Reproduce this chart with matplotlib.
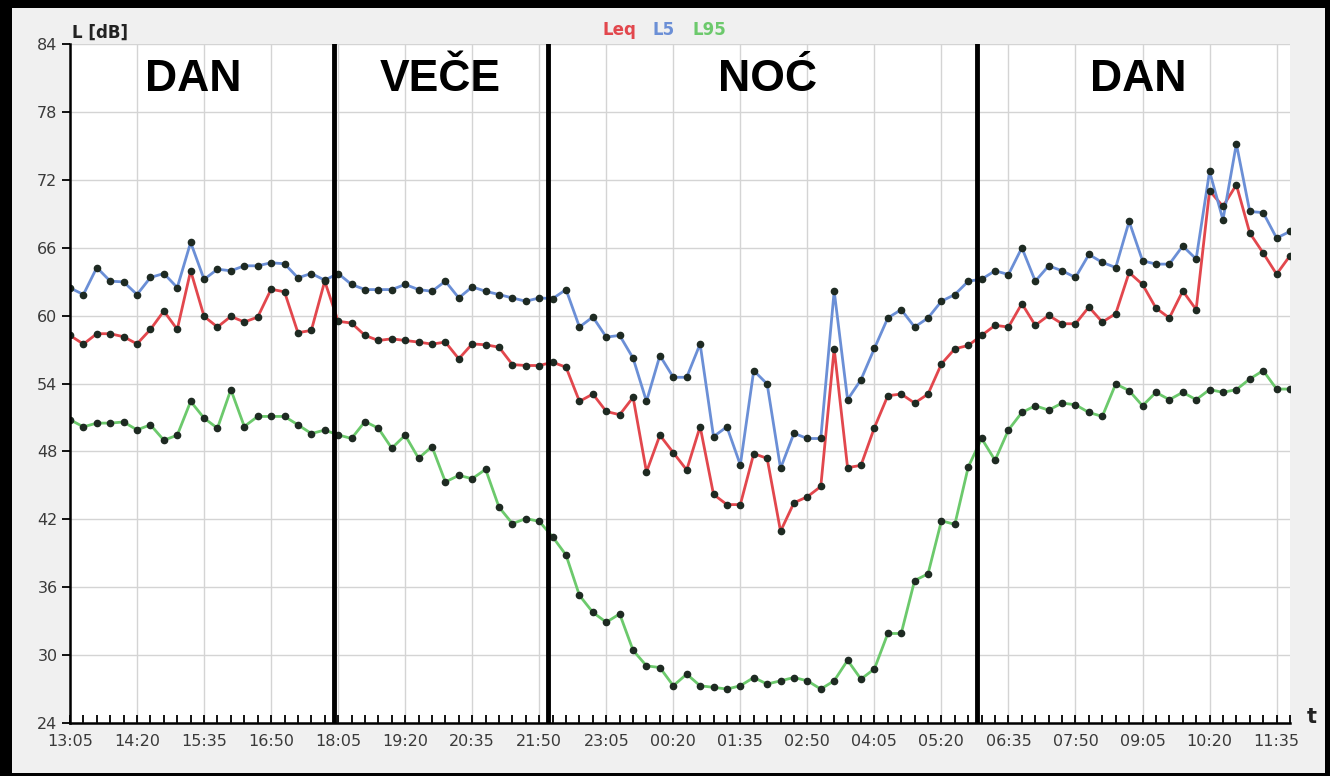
import numpy as np
import pandas as pd
import matplotlib
matplotlib.use("Agg")
import matplotlib.pyplot as plt
import matplotlib.dates as mdates
from matplotlib.patches import Rectangle

# 15-minute samples, 13:05 -> 11:50 next day
times = pd.date_range("2020-01-01 13:05", periods=92, freq="15min")

l5 = [62.45, 61.86, 64.25, 63.04, 62.98, 61.86, 63.37, 63.72, 62.48, 66.47,
      63.2, 64.1, 63.96, 64.4, 64.4, 64.67, 64.58, 63.34, 63.72, 63.13,
      63.72, 62.75, 62.3, 62.3, 62.3, 62.75, 62.3, 62.15, 63.04, 61.56,
      62.54, 62.15, 61.86, 61.56, 61.27, 61.56, 61.5, 62.3, 58.99, 59.88,
      58.1, 58.25, 56.24, 52.42, 56.47, 54.55, 54.55, 57.5, 49.31, 50.17,
      46.8, 55.14, 53.96, 46.5, 49.6, 49.14, 49.14, 62.18, 52.57, 54.34,
      57.1, 59.79, 60.53, 58.99, 59.79, 61.27, 61.86, 63.04, 63.22, 63.96,
      63.63, 66.0, 63.04, 64.4, 63.96, 63.37, 65.4, 64.7, 64.25, 68.32,
      64.85, 64.55, 64.55, 66.15, 65.0, 72.74, 68.47, 75.18, 69.2, 69.1,
      66.85, 67.44]

leq = [58.25, 57.48, 58.4, 58.4, 58.13, 57.5, 58.78, 60.4, 58.78, 63.96,
       59.93, 58.99, 59.93, 59.43, 59.87, 62.33, 62.1, 58.49, 58.69, 63.04,
       59.5, 59.34, 58.25, 57.8, 57.95, 57.8, 57.66, 57.48, 57.66, 56.18,
       57.5, 57.42, 57.21, 55.67, 55.59, 55.59, 55.88, 55.44, 52.42, 53.07,
       51.53, 51.24, 52.78, 46.18, 49.43, 47.89, 46.36, 50.2, 44.2, 43.3,
       43.3, 47.8, 47.39, 40.94, 43.46, 43.99, 44.9, 57.07, 46.56, 46.77,
       50.1, 52.92, 53.07, 52.27, 53.07, 55.73, 57.07, 57.36, 58.25, 59.14,
       58.99, 61.06, 59.14, 60.02, 59.28, 59.28, 60.76, 59.43, 60.17, 63.81,
       62.75, 60.67, 59.79, 62.18, 60.53, 71.03, 69.65, 71.56, 67.3, 65.53,
       63.66, 65.29]

l95 = [50.8, 50.17, 50.5, 50.5, 50.6, 49.9, 50.35, 48.99, 49.43, 52.42,
       50.94, 50.05, 53.46, 50.2, 51.09, 51.09, 51.09, 50.35, 49.58, 49.88,
       49.46, 49.14, 50.64, 50.05, 48.28, 49.43, 47.39, 48.43, 45.3, 45.88,
       45.59, 46.41, 43.07, 41.62, 42.06, 41.82, 40.45, 38.84, 35.27, 33.78,
       32.9, 33.64, 30.42, 29.05, 28.9, 27.29, 28.32, 27.29, 27.15, 27.0,
       27.29, 28.02, 27.44, 27.73, 28.02, 27.73, 27.0, 27.73, 29.54, 27.88,
       28.78, 31.91, 31.91, 36.59, 37.18, 41.87, 41.55, 46.62, 49.14, 47.21,
       49.9, 51.44, 52.03, 51.65, 52.27, 52.12, 51.44, 51.09, 53.96, 53.37,
       52.03, 53.22, 52.57, 53.22, 52.57, 53.46, 53.22, 53.46, 54.4, 55.14,
       53.51, 53.51]

period_bounds = pd.to_datetime(["2020-01-01 18:00", "2020-01-01 22:00", "2020-01-02 06:00"])
period_names = ["DAN", "VEČE", "NOĆ", "DAN"]
period_label_x = pd.to_datetime(["2020-01-01 15:23", "2020-01-01 19:59",
                                 "2020-01-02 02:06", "2020-01-02 09:00"])

c_leq = "#e2474d"
c_l5 = "#6b8fd6"
c_l95 = "#6cc96c"

W, H = 1330, 776
fig = plt.figure(figsize=(W / 100, H / 100), dpi=100, facecolor="black")
fig.patches.append(Rectangle((12 / W, 3 / H), (1325 - 12) / W, (776 - 8 - 3) / H,
                             transform=fig.transFigure, facecolor="#f0f0f0",
                             edgecolor="none", zorder=-5))

ax = fig.add_axes([70 / W, (H - 723) / H, (1290 - 70) / W, (723 - 44) / H])
ax.set_facecolor("white")

for vals, col in [(l95, c_l95), (leq, c_leq), (l5, c_l5)]:
    ax.plot(times, vals, color=col, lw=2, zorder=3, solid_joinstyle="round")
    ax.plot(times, vals, ls="none", marker="o", ms=4.5, color="#1e2a22", zorder=4)

for b in period_bounds:
    ax.axvline(b, color="black", lw=3.5, zorder=5)

for name, x in zip(period_names, period_label_x):
    ax.text(x, 80.9, name, ha="center", va="center", fontsize=32,
            fontweight="bold", family="Liberation Sans", color="black", zorder=6)

ax.set_xlim(times[0], times[-1])
ax.set_ylim(24, 84)

major_t = times[::5][:19]
ax.xaxis.set_major_locator(matplotlib.ticker.FixedLocator(mdates.date2num(major_t)))
ax.xaxis.set_minor_locator(matplotlib.ticker.FixedLocator(mdates.date2num(times)))
ax.xaxis.set_major_formatter(mdates.DateFormatter("%H:%M"))
ax.set_yticks(np.arange(24, 85, 6))

ax.grid(True, which="major", color="#d4d4d4", lw=1, zorder=1)
ax.tick_params(axis="x", which="both", direction="in", length=6, width=1.3,
               color="black", labelsize=11.5, labelcolor="#3a3a3a", pad=8)
ax.tick_params(axis="y", which="major", direction="out", length=6, width=1.3,
               color="black", labelsize=11.5, labelcolor="#3a3a3a", pad=3)

for s in ["top", "right"]:
    ax.spines[s].set_visible(False)
for s in ["left", "bottom"]:
    ax.spines[s].set_linewidth(1.8)
    ax.spines[s].set_zorder(6)

fig.text(72 / W, (H - 38) / H, "L [dB]", fontsize=12, fontweight="bold",
         color="#222222", ha="left", va="baseline")
fig.text(1307 / W, (H - 723) / H, "t", fontsize=15, fontweight="bold",
         color="#222222", ha="left", va="baseline")

ly = (H - 35) / H
for lab, col, dx in [("Leq", c_leq, 0), ("L5", c_l5, 50), ("L95", c_l95, 90)]:
    fig.text((603 + dx) / W, ly, lab, fontsize=12, fontweight="bold",
             color=col, ha="left", va="baseline")

fig.savefig("out.png", dpi=100, facecolor=fig.get_facecolor())
